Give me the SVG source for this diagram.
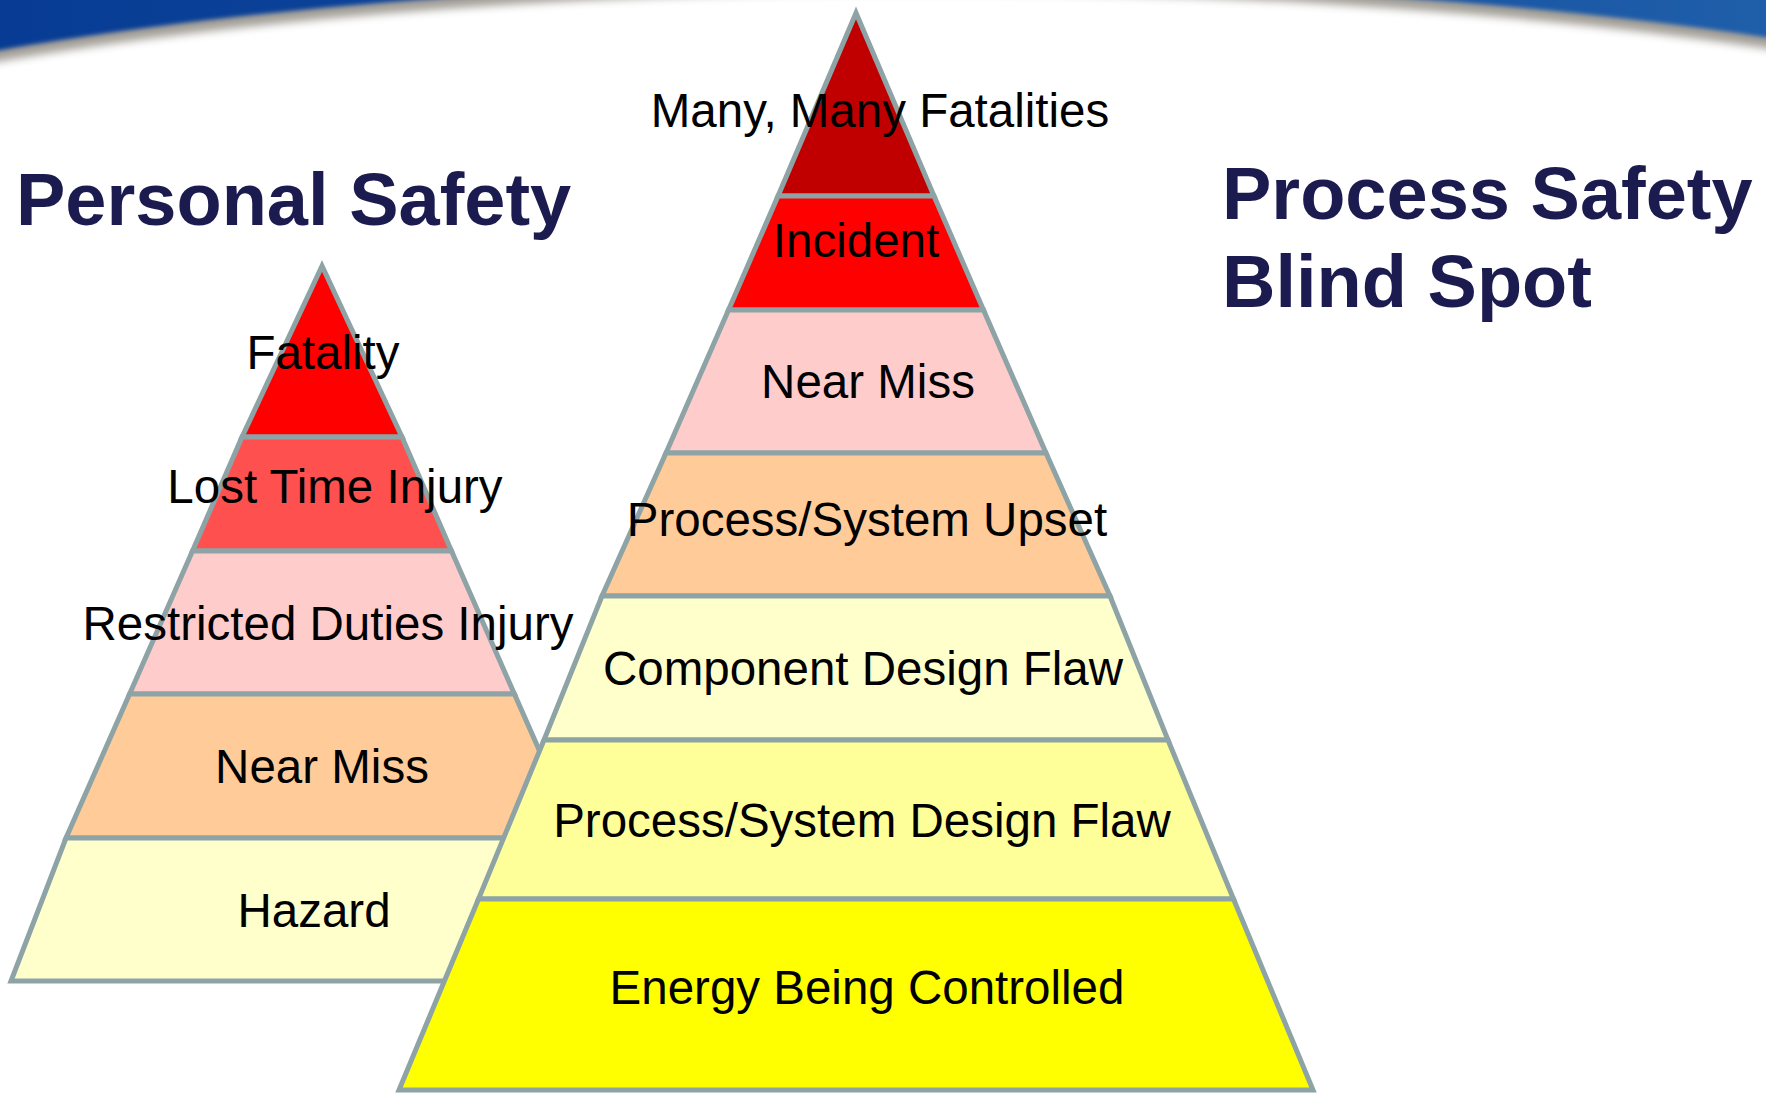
<svg xmlns="http://www.w3.org/2000/svg" width="1766" height="1094" viewBox="0 0 1766 1094">
<style>
.lvl{stroke:#8ea3a5;stroke-width:5;stroke-linejoin:miter}
.lbl{font-family:"Liberation Sans",Arial,sans-serif;font-size:47.5px;fill:#000;text-anchor:middle}
.title{font-family:"Liberation Sans",Arial,sans-serif;font-size:74px;font-weight:bold;fill:#1b1b4f}
</style>
<defs>
<linearGradient id="blue" x1="0" y1="0" x2="1" y2="0">
<stop offset="0" stop-color="#083c94"/>
<stop offset="0.5" stop-color="#0f4a9e"/>
<stop offset="1" stop-color="#1f5ea9"/>
</linearGradient>
<filter id="b2" x="-0.1" y="-0.1" width="1.2" height="1.2"><feGaussianBlur stdDeviation="2"/></filter>
<filter id="b4" x="-0.1" y="-0.1" width="1.2" height="1.2"><feGaussianBlur stdDeviation="4"/></filter>
<clipPath id="bannerClip"><rect x="0" y="0" width="1766" height="120"/></clipPath>
</defs>
<rect x="0" y="0" width="1766" height="1094" fill="#ffffff"/>
<g id="banner" clip-path="url(#bannerClip)">
<rect x="0" y="0" width="1766" height="120" fill="url(#blue)"/>
<ellipse cx="923" cy="260" rx="1400" ry="279" fill="#a39f98" filter="url(#b2)"/>
<ellipse cx="923" cy="271" rx="1400" ry="279" fill="#ffffff" filter="url(#b4)"/>
</g>
<g id="title-personal">
<text class="title" x="16" y="225">Personal Safety</text>
</g>
<g id="title-process">
<text class="title" x="1222" y="219">Process Safety</text>
<text class="title" x="1222" y="307">Blind Spot</text>
</g>
<g id="personal-pyramid">
<g id="p-fatality"><polygon class="lvl" fill="#ff0000" points="322,266 242,437 402,437"/></g>
<g id="p-lost-time"><polygon class="lvl" fill="#ff5050" points="242,437 402,437 451.5,551 192.5,551"/></g>
<g id="p-restricted"><polygon class="lvl" fill="#ffcccc" points="192.5,551 451.5,551 514.4,694 129.6,694"/></g>
<g id="p-near-miss"><polygon class="lvl" fill="#ffcc99" points="129.6,694 514.4,694 578,838 66,838"/></g>
<g id="p-hazard"><polygon class="lvl" fill="#ffffcc" points="66,838 578,838 633,981 11,981"/></g>
<text class="lbl" x="323" y="369">Fatality</text>
<text class="lbl" x="335" y="503">Lost Time Injury</text>
<text class="lbl" x="328" y="640">Restricted Duties Injury</text>
<text class="lbl" x="322" y="783">Near Miss</text>
<text class="lbl" x="314" y="927">Hazard</text>
</g>
<g id="process-pyramid">
<g id="r-fatalities"><polygon class="lvl" fill="#c00000" points="856,13 778,196 934,196"/></g>
<g id="r-incident"><polygon class="lvl" fill="#ff0000" points="778,196 934,196 983.5,310 728.5,310"/></g>
<g id="r-near-miss"><polygon class="lvl" fill="#ffcccc" points="728.5,310 983.5,310 1046,453 666,453"/></g>
<g id="r-upset"><polygon class="lvl" fill="#ffcc99" points="666,453 1046,453 1110,596 602,596"/></g>
<g id="r-component"><polygon class="lvl" fill="#ffffcc" points="602,596 1110,596 1168,740 544,740"/></g>
<g id="r-design"><polygon class="lvl" fill="#ffff99" points="544,740 1168,740 1233.5,899 478.5,899"/></g>
<g id="r-energy"><polygon class="lvl" fill="#ffff00" points="478.5,899 1233.5,899 1313,1090 399,1090"/></g>
<text class="lbl" x="880" y="127">Many, Many Fatalities</text>
<text class="lbl" x="856" y="257">Incident</text>
<text class="lbl" x="868" y="398">Near Miss</text>
<text class="lbl" x="867" y="536">Process/System Upset</text>
<text class="lbl" x="863" y="685">Component Design Flaw</text>
<text class="lbl" x="862" y="837">Process/System Design Flaw</text>
<text class="lbl" x="867" y="1004">Energy Being Controlled</text>
</g>
</svg>
